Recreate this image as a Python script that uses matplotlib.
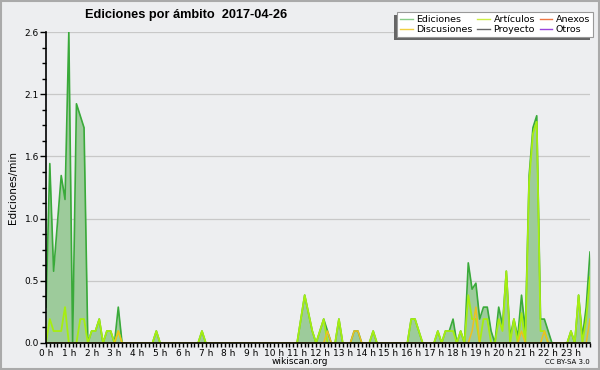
import numpy as np
import matplotlib
matplotlib.use("Agg")
import matplotlib.pyplot as plt
from matplotlib.patches import Rectangle
from matplotlib.ticker import FixedLocator, MultipleLocator

# ---- data: edits per minute, 10-minute bins (144 bins over the day) ----
n_bins = 144
hours = np.arange(n_bins) / 6.0

ediciones_pts = {0: 0.3, 1: 1.5, 2: 0.6, 3: 1.0, 4: 1.4, 5: 1.2, 6: 2.6, 7: 0.0, 8: 2.0, 9: 1.9,
                 10: 1.8, 12: 0.1, 13: 0.1, 14: 0.2, 16: 0.1, 17: 0.1, 19: 0.3,
                 29: 0.1, 41: 0.1,
                 67: 0.2, 68: 0.4, 69: 0.25, 70: 0.1, 72: 0.1, 73: 0.2, 74: 0.1, 77: 0.2,
                 81: 0.1, 82: 0.1, 86: 0.1, 96: 0.2, 97: 0.2, 98: 0.1, 103: 0.1,
                 105: 0.1, 106: 0.1, 107: 0.2, 109: 0.1,
                 111: 0.67, 112: 0.45, 113: 0.5, 114: 0.2, 115: 0.3, 116: 0.3, 117: 0.1,
                 119: 0.3, 120: 0.15, 121: 0.6, 122: 0.05, 123: 0.2, 124: 0.05, 125: 0.4,
                 126: 0.1, 127: 1.4, 128: 1.8, 129: 1.9, 130: 0.2, 131: 0.2, 132: 0.1,
                 138: 0.1, 140: 0.4, 141: 0.05, 142: 0.3, 143: 0.76}
articulos_pts = {1: 0.2, 2: 0.1, 3: 0.1, 4: 0.1, 5: 0.3, 9: 0.2, 10: 0.2, 12: 0.1, 13: 0.1,
                 14: 0.2, 16: 0.1, 17: 0.1, 19: 0.1, 29: 0.1, 41: 0.1,
                 67: 0.2, 68: 0.4, 69: 0.25, 70: 0.1, 72: 0.1, 73: 0.2, 77: 0.2, 86: 0.1,
                 96: 0.2, 97: 0.2, 98: 0.1, 103: 0.1, 105: 0.1, 106: 0.1, 107: 0.1, 109: 0.1,
                 111: 0.4, 112: 0.2, 113: 0.2, 115: 0.2, 116: 0.2, 119: 0.2, 120: 0.1,
                 121: 0.6, 123: 0.2, 125: 0.25, 127: 1.35, 128: 1.75, 129: 1.85, 130: 0.1,
                 131: 0.1, 138: 0.1, 140: 0.4, 142: 0.2, 143: 0.55}
discusiones_pts = {19: 0.1, 74: 0.1, 81: 0.1, 82: 0.1, 112: 0.1, 113: 0.3, 125: 0.1,
                   131: 0.1, 143: 0.2}
anexos_pts = {}
proyecto_pts = {}
otros_pts = {}

def series(pts):
    s = np.zeros(n_bins)
    for k, v in pts.items():
        s[k] = v
    return s

ediciones = series(ediciones_pts)
articulos = series(articulos_pts)
discusiones = series(discusiones_pts)
anexos = series(anexos_pts)
proyecto = series(proyecto_pts)
otros = series(otros_pts)

hour_ticks = list(range(24))
hour_labels = [f"{h} h" for h in hour_ticks]
y_ticks = np.linspace(0, 2.6, 6)
y_labels = [f"{v:.1f}" for v in y_ticks]

# ---- styling ----
bg = "#edeef0"
fig = plt.figure(figsize=(6, 3.7), dpi=100, facecolor=bg)
ax = fig.add_axes([46/600, 27/370, 544/600, 311/370], facecolor=bg)

ax.fill_between(hours, 0, ediciones, color="#9dcb9b", lw=0, zorder=1)
for s, c in [(anexos, "#ee7744"), (proyecto, "#666666"), (otros, "#9944dd")]:
    ax.plot(hours, s, color=c, lw=0.8, zorder=1.2)
ax.plot(hours, ediciones, color="#3aaa3a", lw=1.2, zorder=2)
ax.plot(hours, articulos, color="#a6ee10", lw=1.3, zorder=2.1)
ax.plot(hours, discusiones, color="#eec020", lw=1.1, zorder=2.2)

ax.set_xlim(0, 23 + 5/6)
ax.set_ylim(0, 2.6)
ax.yaxis.set_major_locator(FixedLocator(y_ticks))
ax.set_yticklabels(y_labels)
ax.yaxis.set_minor_locator(MultipleLocator(0.13))
ax.xaxis.set_major_locator(FixedLocator(hour_ticks))
ax.set_xticklabels(hour_labels)
ax.xaxis.set_minor_locator(MultipleLocator(1/6))

ax.grid(axis="y", color="#c8c8c8", lw=0.9, zorder=0)
ax.set_axisbelow(True)
for sp in ["top", "right"]:
    ax.spines[sp].set_visible(False)
for sp in ["left", "bottom"]:
    ax.spines[sp].set_color("black")
    ax.spines[sp].set_linewidth(1.2)
ax.tick_params(axis="both", which="major", length=4, width=1, labelsize=6.5, pad=1, colors="black")
ax.tick_params(axis="both", which="minor", length=3, width=1, colors="black")
ax.tick_params(axis="x", which="major", length=3)

ax.set_ylabel("Ediciones/min", fontsize=7.5, labelpad=5)

fig.text(85/600, 1 - 15/370, "Ediciones por ámbito  2017-04-26", fontsize=9.2, fontweight="bold",
         family=["Liberation Sans", "DejaVu Sans"], ha="left", va="center")
fig.text(300/600, 1 - 361/370, "wikiscan.org", fontsize=6.5, ha="center", va="center")
fig.text(590/600, 1 - 362/370, "CC BY-SA 3.0", fontsize=5, ha="right", va="center")

handles = [
    plt.Line2D([], [], color="#88cc88", lw=1),
    plt.Line2D([], [], color="#f0d040", lw=1),
    plt.Line2D([], [], color="#ccee44", lw=1),
    plt.Line2D([], [], color="#666666", lw=1),
    plt.Line2D([], [], color="#ee7744", lw=1),
    plt.Line2D([], [], color="#9944dd", lw=1),
]
labels = ["Ediciones", "Discusiones", "Artículos", "Proyecto", "Anexos", "Otros"]
leg = fig.legend(handles, labels, ncol=3, loc="upper right", bbox_to_anchor=(593/600, 1 - 12/370),
                 fontsize=6.8, frameon=True, fancybox=False, edgecolor="#999999", facecolor="white",
                 framealpha=1, handlelength=1.3, handletextpad=0.4, columnspacing=0.5,
                 labelspacing=0.15, borderpad=0.3, borderaxespad=0)
leg.get_frame().set_linewidth(0.8)

fig.canvas.draw()
bb = leg.get_window_extent().transformed(fig.transFigure.inverted())
fig.patches.append(Rectangle((bb.x0 - 3/600, bb.y0 - 3/370), bb.width, bb.height,
                             transform=fig.transFigure, facecolor="#666666", edgecolor="none",
                             zorder=4))
fig.patches.append(Rectangle((1/600, 1/370), 598/600, 368/370, transform=fig.transFigure,
                             facecolor="none", edgecolor="#aaaaaa", lw=1.5, zorder=10))

fig.savefig("out.png", dpi=100, facecolor=bg)
